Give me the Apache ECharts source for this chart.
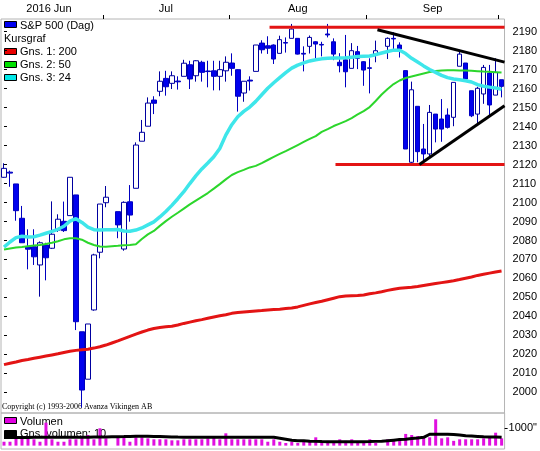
<!DOCTYPE html>
<html>
<head>
<meta charset="utf-8">
<script src="https://cdn.jsdelivr.net/npm/echarts@6/dist/echarts.min.js"></script>
<style>
  html, body { margin: 0; padding: 0; background: #fff; }
  #chart { width: 540px; height: 451px; }
</style>
</head>
<body>
<div id="chart"></div>
<script>
// trading slots (weekdays, holidays left empty)
const dates = [
  '2016-06-08','2016-06-09','2016-06-10','2016-06-13','2016-06-14','2016-06-15','2016-06-16','2016-06-17',
  '2016-06-20','2016-06-21','2016-06-22','2016-06-23','2016-06-24','2016-06-27','2016-06-28','2016-06-29','2016-06-30',
  '2016-07-01','2016-07-04','2016-07-05','2016-07-06','2016-07-07','2016-07-08','2016-07-11','2016-07-12','2016-07-13',
  '2016-07-14','2016-07-15','2016-07-18','2016-07-19','2016-07-20','2016-07-21','2016-07-22','2016-07-25','2016-07-26',
  '2016-07-27','2016-07-28','2016-07-29','2016-08-01','2016-08-02','2016-08-03','2016-08-04','2016-08-05','2016-08-08',
  '2016-08-09','2016-08-10','2016-08-11','2016-08-12','2016-08-15','2016-08-16','2016-08-17','2016-08-18','2016-08-19',
  '2016-08-22','2016-08-23','2016-08-24','2016-08-25','2016-08-26','2016-08-29','2016-08-30','2016-08-31','2016-09-01',
  '2016-09-02','2016-09-05','2016-09-06','2016-09-07','2016-09-08','2016-09-09','2016-09-12','2016-09-13','2016-09-14',
  '2016-09-15','2016-09-16','2016-09-19','2016-09-20','2016-09-21','2016-09-22','2016-09-23','2016-09-26','2016-09-27',
  '2016-09-28','2016-09-29','2016-09-30','2016-10-03'
];

// [open, close, low, high]
const ohlc = [
  [2113.3, 2118.0, 2113.0, 2120.7], [2116.0, 2115.5, 2108.3, 2116.8], [2109.8, 2095.7, 2090.4, 2109.8],
  [2091.7, 2078.8, 2078.8, 2098.2], [2076.7, 2075.4, 2064.8, 2085.9], [2076.7, 2071.4, 2067.1, 2085.9],
  [2067.1, 2078.8, 2050.4, 2079.5], [2077.6, 2070.9, 2059.0, 2078.8], [2075.9, 2083.3, 2075.5, 2100.6],
  [2085.5, 2091.2, 2084.5, 2093.8], [2090.1, 2085.2, 2084.5, 2100.5], [2093.1, 2113.3, 2093.1, 2113.3],
  [2104.0, 2037.2, 2032.8, 2104.0], [2031.9, 2001.2, 1992.0, 2031.9], [2006.9, 2036.0, 2006.9, 2036.0],
  [2043.4, 2072.4, 2043.0, 2073.0], [2073.8, 2099.2, 2070.6, 2099.2], [2099.9, 2102.8, 2097.5, 2108.7],
  null,
  [2095.2, 2088.2, 2081.2, 2095.2], [2075.5, 2100.1, 2074.6, 2100.6], [2100.4, 2093.4, 2089.9, 2109.2],
  [2107.5, 2130.3, 2107.5, 2131.7], [2132.3, 2137.0, 2132.3, 2143.5], [2140.2, 2152.4, 2140.2, 2155.4],
  [2154.0, 2152.3, 2146.6, 2156.0], [2158.6, 2163.9, 2156.0, 2169.1], [2165.4, 2161.0, 2156.3, 2169.4],
  [2162.8, 2166.8, 2159.8, 2169.1], [2164.0, 2163.6, 2159.5, 2166.5], [2166.5, 2173.4, 2166.5, 2175.2],
  [2172.6, 2165.1, 2159.8, 2174.7], [2166.8, 2174.7, 2163.7, 2175.0], [2173.9, 2168.6, 2163.7, 2174.7],
  [2169.3, 2169.0, 2160.7, 2174.7], [2169.4, 2166.5, 2159.1, 2174.7], [2166.5, 2170.0, 2159.1, 2174.7],
  [2169.4, 2173.9, 2163.7, 2177.0], [2173.5, 2170.7, 2166.8, 2178.6], [2170.0, 2156.0, 2147.9, 2170.2],
  [2157.7, 2163.9, 2153.1, 2163.9], [2164.5, 2164.0, 2159.0, 2166.5], [2169.1, 2183.0, 2169.1, 2183.0],
  [2184.0, 2180.5, 2178.5, 2185.5], [2182.6, 2181.3, 2178.3, 2187.6], [2183.0, 2175.6, 2173.0, 2183.3],
  [2178.6, 2185.8, 2178.6, 2187.9], [2184.3, 2184.0, 2179.0, 2187.0], [2186.5, 2191.4, 2186.5, 2194.1],
  [2186.5, 2178.2, 2178.0, 2186.5], [2178.6, 2178.2, 2169.1, 2182.3], [2182.3, 2187.0, 2178.5, 2188.0],
  [2184.7, 2183.5, 2176.0, 2185.0], [2183.3, 2183.0, 2177.0, 2184.7], [2188.8, 2188.3, 2187.0, 2194.1],
  [2184.7, 2178.2, 2175.0, 2186.5], [2173.9, 2172.1, 2168.6, 2178.7], [2175.2, 2168.9, 2160.7, 2188.3],
  [2170.7, 2180.0, 2170.7, 2184.0], [2179.5, 2176.0, 2170.3, 2182.5], [2174.2, 2169.8, 2161.5, 2174.5],
  [2171.0, 2170.7, 2157.5, 2176.0], [2178.2, 2180.0, 2173.9, 2185.3],
  null,
  [2182.3, 2186.5, 2175.6, 2187.0], [2186.5, 2186.2, 2180.0, 2189.7], [2183.0, 2180.9, 2176.4, 2184.4],
  [2169.5, 2128.2, 2128.2, 2169.5], [2121.2, 2159.4, 2120.0, 2163.7], [2150.7, 2126.8, 2121.2, 2150.7],
  [2128.2, 2125.6, 2119.5, 2141.4], [2125.6, 2147.5, 2123.5, 2151.4], [2146.6, 2138.7, 2131.7, 2146.6],
  [2144.0, 2138.7, 2132.0, 2154.5], [2146.1, 2139.6, 2139.0, 2149.6], [2144.9, 2163.3, 2140.2, 2163.3],
  [2171.8, 2178.2, 2171.8, 2180.5], [2173.5, 2165.1, 2164.5, 2173.5], [2158.9, 2145.7, 2145.0, 2158.9],
  [2146.6, 2160.2, 2141.9, 2161.0], [2157.2, 2171.2, 2152.0, 2172.5], [2168.2, 2151.4, 2145.7, 2172.5],
  [2156.6, 2168.6, 2156.6, 2176.0], [2164.7, 2161.2, 2155.4, 2164.7]
];

const ma200 = [
  2014.6, 2015.3, 2016.0, 2016.8, 2017.3, 2017.9, 2018.5, 2019.1, 2019.7, 2020.3,
  2021.0, 2021.6, 2022.1, 2022.4, 2022.7, 2023.3, 2024.0, 2024.9, 2026.0, 2027.1,
  2028.3, 2029.5, 2030.7, 2031.8, 2032.8, 2033.6, 2034.2, 2034.5, 2034.8, 2035.5,
  2036.3, 2037.0, 2037.7, 2038.3, 2039.0, 2039.7, 2040.3, 2040.9, 2041.6, 2042.0,
  2042.3, 2042.6, 2042.9, 2043.1, 2043.4, 2043.6, 2043.8, 2044.1, 2044.4, 2045.0,
  2045.8, 2046.6, 2047.3, 2048.0, 2048.8, 2049.6, 2050.4, 2050.8, 2050.9, 2051.0,
  2051.3, 2051.9, 2052.4, 2053.0, 2053.7, 2054.3, 2054.8, 2055.1, 2055.4, 2055.8,
  2056.3, 2056.8, 2057.3, 2057.8, 2058.3, 2058.8, 2059.4, 2060.1, 2060.8, 2061.6,
  2062.2, 2062.8, 2063.4, 2063.9
];

const ma50 = [
  2075.2, 2075.8, 2076.3, 2076.6, 2077.0, 2077.3, 2077.6, 2078.2, 2078.8, 2079.6,
  2080.6, 2081.2, 2081.2, 2080.4, 2078.8, 2077.6, 2076.8, 2076.7, 2077.0, 2077.2,
  2077.5, 2077.6, 2078.0, 2080.8, 2083.2, 2085.0, 2087.7, 2090.2, 2092.5, 2094.6,
  2096.8, 2099.0, 2101.0, 2103.0, 2105.0, 2107.3, 2109.7, 2112.2, 2114.5, 2116.0,
  2117.2, 2118.5, 2119.3, 2120.8, 2122.4, 2124.0, 2125.6, 2127.1, 2128.7, 2130.3,
  2131.9, 2133.5, 2135.0, 2137.2, 2138.7, 2140.3, 2141.6, 2142.9, 2144.5, 2146.4,
  2148.2, 2150.3, 2153.5, 2156.9, 2159.8, 2162.4, 2164.3, 2165.6, 2166.4, 2167.2,
  2168.0, 2168.8, 2169.3, 2169.6, 2169.7, 2169.7, 2169.6, 2169.5, 2169.4, 2169.2,
  2169.0, 2168.9, 2168.7, 2168.5
];

const ma24 = [
  2076.5, 2079.2, 2081.5, 2082.2, 2081.8, 2082.0, 2082.8, 2083.8, 2084.8, 2085.9,
  2087.5, 2090.2, 2091.5, 2089.5, 2087.0, 2085.7, 2085.5, 2085.6, 2085.6, 2085.8,
  2085.0, 2084.9, 2085.5, 2086.6, 2088.2, 2089.8, 2092.4, 2095.3, 2098.5, 2102.0,
  2105.7, 2110.0, 2114.0, 2117.7, 2120.8, 2124.1, 2128.5, 2135.5, 2141.0, 2145.2,
  2148.0, 2150.3, 2153.3, 2156.8, 2160.2, 2163.1, 2165.8, 2168.4, 2170.8, 2172.4,
  2173.6, 2174.6, 2175.2, 2175.7, 2176.0, 2176.1, 2176.1, 2176.3, 2176.6, 2176.9,
  2177.1, 2177.2, 2177.9, 2178.8, 2179.6, 2180.3, 2180.2, 2178.5, 2176.0, 2174.0,
  2172.0, 2170.1, 2168.6, 2167.0, 2165.8, 2165.1, 2164.7, 2164.2, 2163.5, 2162.1,
  2161.3, 2160.8, 2160.4, 2159.6
];

const volume = [
  220, 220, 412, 412, 412, 356, 220, 1294, 356, 220,
  220, 356, 356, 469, 599, 356, 977, 412, '-', 503,
  503, 220, 469, 469, 412, 356, 356, 356, 300, 300,
  356, 356, 356, 356, 412, 503, 356, 695, 356, 356,
  356, 356, 356, 356, 220, 356, 220, 150, 220, 150,
  220, 250, 469, 270, 270, 220, 356, 270, 356, 220,
  220, 356, 150, '-', 356, 356, 412, 660, 599, 540,
  503, 469, 1486, 412, 469, 270, 356, 356, 356, 356,
  412, 469, 729, 412
];

const volumeMa10 = [
  460, 460, 462, 465, 465, 466, 466, 470, 472, 470,
  470, 470, 470, 472, 475, 480, 485, 490, 500, 505,
  510, 520, 530, 530, 525, 520, 510, 500, 490, 480,
  475, 470, 470, 470, 470, 470, 470, 470, 470, 470,
  470, 470, 470, 470, 469, 469, 420, 360, 300, 280,
  270, 250, 240, 230, 225, 220, 220, 220, 220, 220,
  225, 230, 240, 250, 280, 310, 340, 356, 400, 430,
  469, 640, 640, 640, 638, 630, 600, 560, 540, 520,
  500, 490, 480, 469
];

const priceTicks = [2000, 2010, 2020, 2030, 2040, 2050, 2060, 2070, 2080, 2090,
  2100, 2110, 2120, 2130, 2140, 2150, 2160, 2170, 2180, 2190];
const volumeTicks = [1000];

// month labels sit mid-month, ticks on month boundaries (slot index units)
const monthLabels = ['2016 Jun', 'Jul', 'Aug', 'Sep'];
const monthLabelAt = [7.5, 27, 49, 71.5];
const monthTickAt = [16.5, 37.5, 60.5, 82.5];

// drawn support / resistance and trend lines: [slot, price]
const resistanceLine = [[44.3, 2192.3], [83.5, 2192.3]];
const supportLine = [[55.3, 2120.0], [83.5, 2120.0]];
const upperTrend = [[62.3, 2191.0], [83.5, 2174.0]];
const lowerTrend = [[69.3, 2120.0], [83.5, 2151.0]];

const FONT = '"Liberation Sans", Arial, sans-serif';

const chart = echarts.init(document.getElementById('chart'), null, { renderer: 'canvas' });

function legendBox(y, color) {
  return {
    type: 'rect',
    shape: { x: 4.5, y: y, width: 12, height: 6 },
    style: { fill: color, stroke: '#000', lineWidth: 1 }
  };
}
function legendText(x, y, text, font) {
  return {
    type: 'text',
    x: x, y: y,
    style: { text: text, font: font || ('11px ' + FONT), fill: '#000', verticalAlign: 'middle' }
  };
}

const option = {
  animation: false,
  backgroundColor: '#fff',
  textStyle: { fontFamily: FONT },
  grid: [
    { left: 1, top: 19, width: 504, height: 394, show: true, borderColor: '#b4b4b4', borderWidth: 1 },
    { left: 1, top: 413, width: 504, height: 36, show: true, borderColor: '#b4b4b4', borderWidth: 1 }
  ],
  xAxis: [
    { type: 'category', gridIndex: 0, data: dates, boundaryGap: true, show: false },
    {
      type: 'value', gridIndex: 0, position: 'top', min: -0.5, max: 83.5,
      axisLine: { show: false },
      splitLine: { show: false },
      axisTick: { show: true, customValues: monthTickAt, length: 4, lineStyle: { color: '#000' } },
      axisLabel: {
        customValues: monthLabelAt, margin: 5, color: '#000', fontSize: 11, fontFamily: FONT,
        formatter: function (v) { return monthLabels[monthLabelAt.indexOf(v)] || ''; }
      }
    },
    { type: 'category', gridIndex: 1, data: dates, boundaryGap: true, show: false }
  ],
  yAxis: [
    {
      type: 'value', gridIndex: 0, position: 'right', min: 1989.1, max: 2196.7,
      axisLine: { show: false },
      splitLine: { show: false },
      axisTick: { show: true, customValues: priceTicks, length: 3, lineStyle: { color: '#000' } },
      axisLabel: {
        customValues: priceTicks, margin: 8, color: '#000', fontSize: 11, fontFamily: FONT,
        formatter: function (v) { return String(v); }
      }
    },
    {
      type: 'value', gridIndex: 1, position: 'right', min: -190, max: 1840,
      axisLine: { show: false },
      splitLine: { show: false },
      axisTick: { show: true, customValues: volumeTicks, length: 3, lineStyle: { color: '#000' } },
      axisLabel: {
        customValues: volumeTicks, margin: 4, color: '#000', fontSize: 11, fontFamily: FONT,
        formatter: function (v) { return String(v) + '"'; }
      }
    }
  ],
  graphic: [
    legendBox(21.5, '#0000f0'), legendText(20, 25.5, 'S&P 500 (Dag)'),
    legendText(4, 39, 'Kursgraf'),
    legendBox(48.5, '#e80000'), legendText(20, 52, 'Gns. 1: 200'),
    legendBox(61.5, '#00e000'), legendText(20, 65, 'Gns. 2: 50'),
    legendBox(74.5, '#00e8e8'), legendText(20, 78, 'Gns. 3: 24'),
    legendText(2, 406.5, 'Copyright (c) 1993-2006 Avanza Vikingen AB', '8px "Liberation Serif", serif'),
    legendBox(417.5, '#e000e0'), legendText(20, 421.5, 'Volumen'),
    legendBox(430.5, '#000000'), legendText(20, 433.5, 'Gns. volumen: 10')
  ],
  series: [
    {
      name: 'S&P 500 (Dag)', type: 'candlestick', xAxisIndex: 0, yAxisIndex: 0,
      data: ohlc.map(d => d || ['-', '-', '-', '-']),
      barWidth: 5,
      itemStyle: {
        color: '#ffffff', color0: '#0000ee',
        borderColor: '#0000a0', borderColor0: '#0000c0', borderWidth: 1
      },
      z: 2
    },
    {
      name: 'Gns. 1: 200', type: 'line', xAxisIndex: 0, yAxisIndex: 0, data: ma200,
      showSymbol: false, lineStyle: { color: '#e31414', width: 3 }, z: 3
    },
    {
      name: 'Gns. 2: 50', type: 'line', xAxisIndex: 0, yAxisIndex: 0, data: ma50,
      showSymbol: false, lineStyle: { color: '#2cd62c', width: 2 }, z: 3
    },
    {
      name: 'Gns. 3: 24', type: 'line', xAxisIndex: 0, yAxisIndex: 0, data: ma24,
      showSymbol: false, lineStyle: { color: '#3ee6ea', width: 3.5 }, z: 4
    },
    {
      name: 'Motstånd', type: 'line', xAxisIndex: 1, yAxisIndex: 0, data: resistanceLine,
      showSymbol: false, lineStyle: { color: '#e31414', width: 3 }, z: 5
    },
    {
      name: 'Stöd', type: 'line', xAxisIndex: 1, yAxisIndex: 0, data: supportLine,
      showSymbol: false, lineStyle: { color: '#e31414', width: 3 }, z: 5
    },
    {
      name: 'Trend övre', type: 'line', xAxisIndex: 1, yAxisIndex: 0, data: upperTrend,
      showSymbol: false, lineStyle: { color: '#000', width: 3 }, z: 6
    },
    {
      name: 'Trend undre', type: 'line', xAxisIndex: 1, yAxisIndex: 0, data: lowerTrend,
      showSymbol: false, lineStyle: { color: '#000', width: 3 }, z: 6
    },
    {
      name: 'Volumen', type: 'bar', xAxisIndex: 2, yAxisIndex: 1, data: volume,
      barWidth: 3, itemStyle: { color: '#e010e0' }, z: 2
    },
    {
      name: 'Gns. volumen: 10', type: 'line', xAxisIndex: 2, yAxisIndex: 1, data: volumeMa10,
      showSymbol: false, lineStyle: { color: '#000', width: 3 }, z: 3
    }
  ]
};

chart.setOption(option);
</script>
</body>
</html>
